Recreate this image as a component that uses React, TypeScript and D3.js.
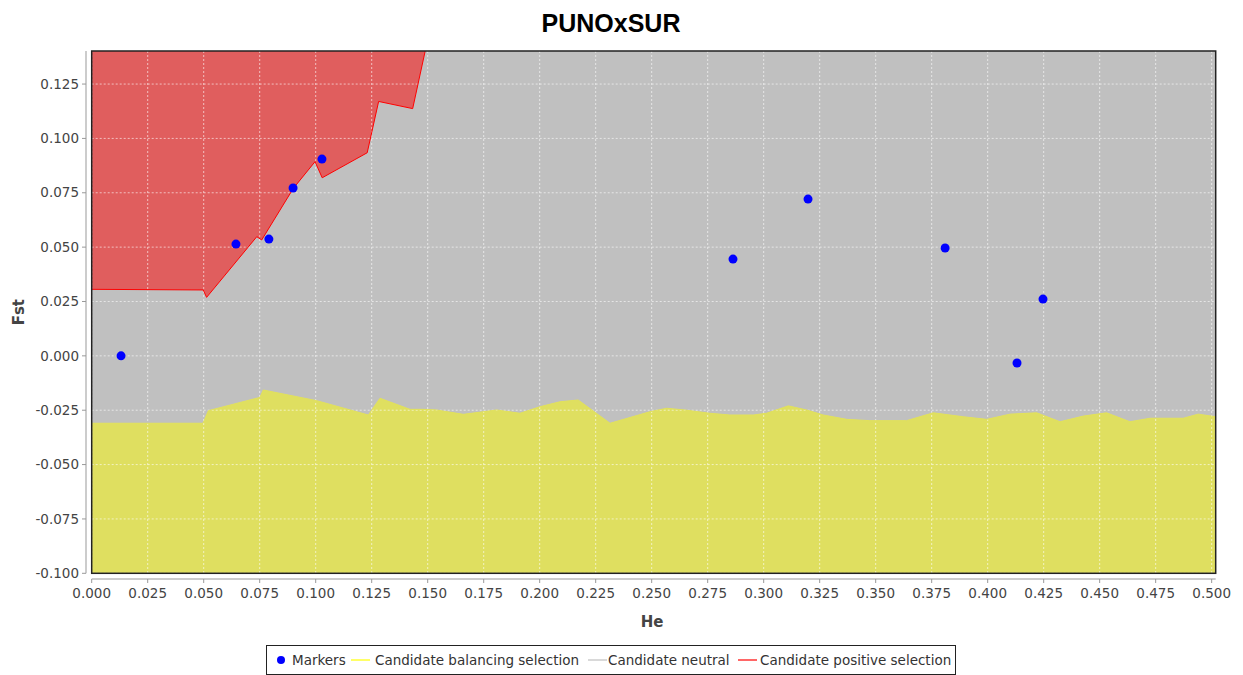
import React from "react";
import * as d3 from "d3";

const W = 1243;
const H = 675;

const title = "PUNOxSUR";
const xLabel = "He";
const yLabel = "Fst";

const xTicks = [0, 0.025, 0.05, 0.075, 0.1, 0.125, 0.15, 0.175, 0.2, 0.225, 0.25, 0.275, 0.3, 0.325, 0.35, 0.375, 0.4, 0.425, 0.45, 0.475, 0.5];
const yTicks = [-0.1, -0.075, -0.05, -0.025, 0, 0.025, 0.05, 0.075, 0.1, 0.125];

// Markers (He, Fst)
const markerHe = [0.0131, 0.0644, 0.0791, 0.0899, 0.1028, 0.2863, 0.3198, 0.381, 0.4131, 0.4247];
const markerFst = [0.0, 0.0514, 0.0537, 0.0772, 0.0905, 0.0445, 0.0721, 0.0496, -0.0033, 0.0261];

// Upper limit (candidate positive selection boundary)
const upperHe = [0, 0.0498, 0.0513, 0.0737, 0.0759, 0.09, 0.0997, 0.1029, 0.123, 0.1281, 0.1433, 0.1488, 0.152];
const upperFst = [0.0306, 0.0303, 0.0269, 0.0548, 0.0533, 0.077, 0.0893, 0.0819, 0.0934, 0.117, 0.1137, 0.1398, 0.16];

// Lower limit (candidate balancing selection boundary)
const lowerHe = [0, 0.0497, 0.0521, 0.0751, 0.0766, 0.1004, 0.1235, 0.1287, 0.1421, 0.148, 0.154, 0.1659, 0.1808, 0.1912, 0.2001, 0.2091, 0.2172, 0.2314, 0.2492, 0.2567, 0.2648, 0.276, 0.2849, 0.2954, 0.3013, 0.311, 0.3192, 0.3266, 0.3371, 0.3474, 0.3638, 0.3757, 0.3891, 0.3996, 0.41, 0.4219, 0.4323, 0.4427, 0.4531, 0.4635, 0.4725, 0.4873, 0.494, 0.5018];
const lowerFst = [-0.031, -0.031, -0.0252, -0.0191, -0.0157, -0.0206, -0.0272, -0.0195, -0.0246, -0.0246, -0.0249, -0.0269, -0.0249, -0.0264, -0.0234, -0.0211, -0.0203, -0.031, -0.0257, -0.0241, -0.0249, -0.0264, -0.0272, -0.0272, -0.0264, -0.023, -0.0249, -0.0272, -0.0292, -0.0298, -0.0298, -0.0262, -0.028, -0.0292, -0.0268, -0.0262, -0.0303, -0.0277, -0.0262, -0.0303, -0.0287, -0.0287, -0.0268, -0.028];

const legendItems = ["Markers", "Candidate balancing selection", "Candidate neutral", "Candidate positive selection"];
const legendColors = ["#0000ff", "#ffff00", "#c0c0c0", "#ff0000"];

const C = {
  bg: "#c0c0c0",
  red: "#e05e5e",
  redLine: "#ff0000",
  yellow: "#dfdf60",
  yellowLine: "#e2e25a",
  blue: "#0000ff",
};

const PL = 91.7, PR = 1215.7, PT = 51, PB = 573.3;

export default function App() {
  const x = d3.scaleLinear().domain([0, 0.5018]).range([PL, PR]);
  const y = d3.scaleLinear().domain([-0.1, 0.1402]).range([PB, PT]);

  const upperPts: [number, number][] = upperHe.map((h, i) => [h, upperFst[i]]);
  const lowerPts: [number, number][] = lowerHe.map((h, i) => [h, lowerFst[i]]);

  const upperArea = d3.area<[number, number]>().x(d => x(d[0])).y0(() => y(0.2)).y1(d => y(d[1]))(upperPts) || "";
  const upperLine = d3.line<[number, number]>().x(d => x(d[0])).y(d => y(d[1]))(upperPts) || "";
  const lowerArea = d3.area<[number, number]>().x(d => x(d[0])).y0(() => y(-0.1)).y1(d => y(d[1]))(lowerPts) || "";
  const lowerLine = d3.line<[number, number]>().x(d => x(d[0])).y(d => y(d[1]))(lowerPts) || "";

  const f3 = d3.format(".3f");
  const fmt = (v: number) => f3(v).replace("\u2212", "-");
  const font = "'DejaVu Sans', Tahoma, sans-serif";
  const legendX = [281, 351, 588, 738];
  const legendTextX = [292, 375, 608, 760];

  return (
    <div style={{ position: "absolute", left: 0, top: 0 }}>
      <svg width={W} height={H} style={{ display: "block", background: "#fff" }}>
        <defs>
          <clipPath id="plotclip">
            <rect x={PL} y={PT} width={PR - PL} height={PB - PT} />
          </clipPath>
        </defs>
        <text x={611} y={32} textAnchor="middle" fontFamily="'Liberation Sans', Arial, sans-serif" fontWeight="bold" fontSize={25} fill="#000">{title}</text>

        <rect x={PL} y={PT} width={PR - PL} height={PB - PT} fill={C.bg} />
        <g clipPath="url(#plotclip)">
          <path d={upperArea} fill={C.red} />
          <path d={lowerArea} fill={C.yellow} />
          {xTicks.map((t, i) => (
            <line key={"gx" + i} x1={x(t)} x2={x(t)} y1={PT} y2={PB} stroke="#fff" strokeOpacity={0.6} strokeDasharray="2,2" strokeWidth={1} />
          ))}
          {yTicks.map((t, i) => (
            <line key={"gy" + i} x1={PL} x2={PR} y1={y(t)} y2={y(t)} stroke="#fff" strokeOpacity={0.6} strokeDasharray="2,2" strokeWidth={1} />
          ))}
          <path d={lowerLine} fill="none" stroke={C.yellowLine} strokeWidth={1} />
          <path d={upperLine} fill="none" stroke={C.redLine} strokeWidth={1} />
          {markerHe.map((h, i) => (
            <circle key={"m" + i} cx={x(h)} cy={y(markerFst[i])} r={4.5} fill={C.blue} />
          ))}
        </g>
        <rect x={PL} y={PT} width={PR - PL} height={PB - PT} fill="none" stroke="#222" strokeWidth={1.5} />

        {/* Y axis */}
        <line x1={86} x2={86} y1={PT} y2={PB} stroke="#999" strokeWidth={1} />
        {yTicks.map((t, i) => (
          <g key={"yt" + i}>
            <line x1={82} x2={86} y1={y(t)} y2={y(t)} stroke="#999" />
            <text x={79} y={y(t)} dy="0.35em" textAnchor="end" fontFamily={font} fontSize={13.5} fill="#444">{fmt(t)}</text>
          </g>
        ))}
        {/* X axis */}
        <line x1={PL} x2={PR} y1={579} y2={579} stroke="#999" strokeWidth={1} />
        {xTicks.map((t, i) => (
          <g key={"xt" + i}>
            <line x1={x(t)} x2={x(t)} y1={579} y2={583} stroke="#999" />
            <text x={x(t)} y={598} textAnchor="middle" fontFamily={font} fontSize={13.5} fill="#444">{fmt(t)}</text>
          </g>
        ))}

        <text x={652} y={627} textAnchor="middle" fontFamily={font} fontWeight="bold" fontSize={15} fill="#444">{xLabel}</text>
        <text transform={`translate(24,${(PT + PB) / 2}) rotate(-90)`} textAnchor="middle" fontFamily={font} fontWeight="bold" fontSize={15} fill="#444">{yLabel}</text>

        {/* Legend */}
        <rect x={266.5} y={645.5} width={689} height={29} fill="#fff" stroke="#222" strokeWidth={1} />
        {legendItems.map((name, i) => (
          <g key={"lg" + i}>
            {i === 0 ? (
              <circle cx={legendX[i]} cy={660} r={4} fill={legendColors[i]} />
            ) : (
              <line x1={legendX[i]} x2={legendX[i] + 19} y1={660} y2={660} stroke={legendColors[i]} strokeWidth={1.2} />
            )}
            <text x={legendTextX[i]} y={660} dy="0.35em" fontFamily={font} fontSize={13.5} fill="#333">{name}</text>
          </g>
        ))}
      </svg>
    </div>
  );
}
